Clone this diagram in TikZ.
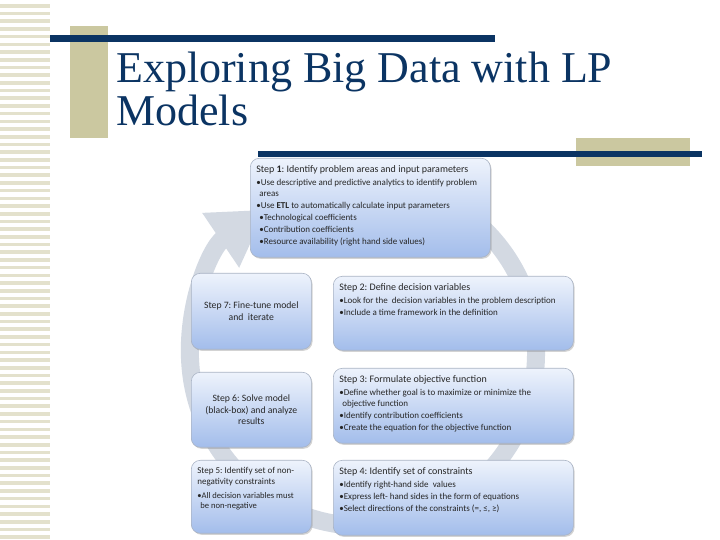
\documentclass[tikz,border=0pt]{standalone}
\usepackage{fontspec}
\setmainfont{Carlito}
\newfontfamily\titlefont{Liberation Serif}
\usetikzlibrary{arrows.meta,shadows}
\definecolor{navy}{HTML}{0B3463}
\definecolor{khaki}{HTML}{CBC8A0}
\definecolor{stripe}{HTML}{E3E1CC}
\definecolor{ring}{HTML}{D3D9E2}
\definecolor{boxtop}{HTML}{EEF3FC}
\definecolor{boxbottom}{HTML}{A3BDEB}
\definecolor{boxline}{HTML}{A9B3C4}
\frenchspacing
\newcommand{\stephead}[2][10]{{\fontsize{#1}{11}\selectfont #2\par}\vspace{3pt}}
\newcommand{\steptext}[3]{\parbox[t][#2][t]{#1}{\raggedright\fontsize{9}{10.5}\selectfont #3}}
\tikzset{
	stepbox/.style={draw=boxline, line width=0.6pt, rounded corners=9pt, top color=boxtop, bottom color=boxbottom,
		drop shadow={shadow xshift=1.2pt, shadow yshift=-1.5pt, opacity=0.35}, anchor=north west,
		inner xsep=6pt, inner ysep=7pt, text=black!85},
	roundbox/.style={stepbox, align=center, minimum width=120pt, font=\frenchspacing\fontsize{9.7}{11.5}\selectfont},
	title/.style={anchor=base west, inner sep=0pt, text=navy, font=\titlefont\fontsize{44}{48}\selectfont}
}
\begin{document}
\begin{tikzpicture}[x=1pt,y=1pt]
	\useasboundingbox (0,0) rectangle (720,540);
	\foreach \y in {1,8.7,...,540}
		\fill[stripe] (0,\y) rectangle (50,\y+3.6);
	\fill[khaki] (70,402) rectangle (108,514);
	\fill[navy] (50,498) rectangle (495,505);
	\fill[khaki] (576,374) rectangle (690,402);
	\fill[navy] (258,383) rectangle (702,389);
	\node[title] (title) at (116,457) {Exploring Big Data with LP};
	\node[title] (title2) at (116,414) {Models};
	\draw[ring, line width=18pt, -{Triangle[length=55pt,width=62pt]}] (363,187) ++(100:173) arc[start angle=100, end angle=-236, radius=173];
	\node[stepbox] (s1) at (250,382) {\steptext{228pt}{85pt}{\stephead{Step \textbf{1}: Identify problem areas and input parameters}%
		•Use descriptive and predictive analytics to identify problem\\\hspace*{3pt}areas\\[1.5pt]
		•Use \textbf{ETL} to automatically calculate input parameters\\[1.5pt]
		\hspace*{3pt}•Technological coefficients\\[1.5pt]
		\hspace*{3pt}•Contribution coefficients\\[1.5pt]
		\hspace*{3pt}•Resource availability (right hand side values)}};
	\node[stepbox] (s2) at (333,264) {\steptext{228pt}{60pt}{\stephead{Step 2: Define decision variables}%
		•Look for the \ decision variables in the problem description\\[1.5pt]
		•Include a time framework in the definition}};
	\node[stepbox] (s3) at (333,172) {\steptext{228pt}{61pt}{\stephead{Step 3: Formulate objective function}%
		•Define whether goal is to maximize or minimize the\\\hspace*{3pt}objective function\\[1.5pt]
		•Identify contribution coefficients\\[1.5pt]
		•Create the equation for the objective function}};
	\node[stepbox] (s4) at (333,80) {\steptext{228pt}{61pt}{\stephead{Step 4: Identify set of constraints}%
		•Identify right-hand side \ values\\[1.5pt]
		•Express left- hand sides in the form of equations\\[1.5pt]
		•Select directions of the constraints (=, ≤, ≥)}};
	\node[roundbox, minimum height=76pt] (s7) at (191,267) {Step 7: Fine-tune model\\and \ iterate};
	\node[roundbox, minimum height=75pt] (s6) at (191,168) {Step 6: Solve model\\(black-box) and analyze\\results};
	\node[stepbox] (s5) at (191,80) {\steptext{108pt}{59pt}{\stephead[9]{Step 5: Identify set of non-\\negativity constraints}%
		\fontsize{8.6}{10.5}\selectfont •All decision variables must\\\hspace*{3pt}be non-negative}};
\end{tikzpicture}
\end{document}
